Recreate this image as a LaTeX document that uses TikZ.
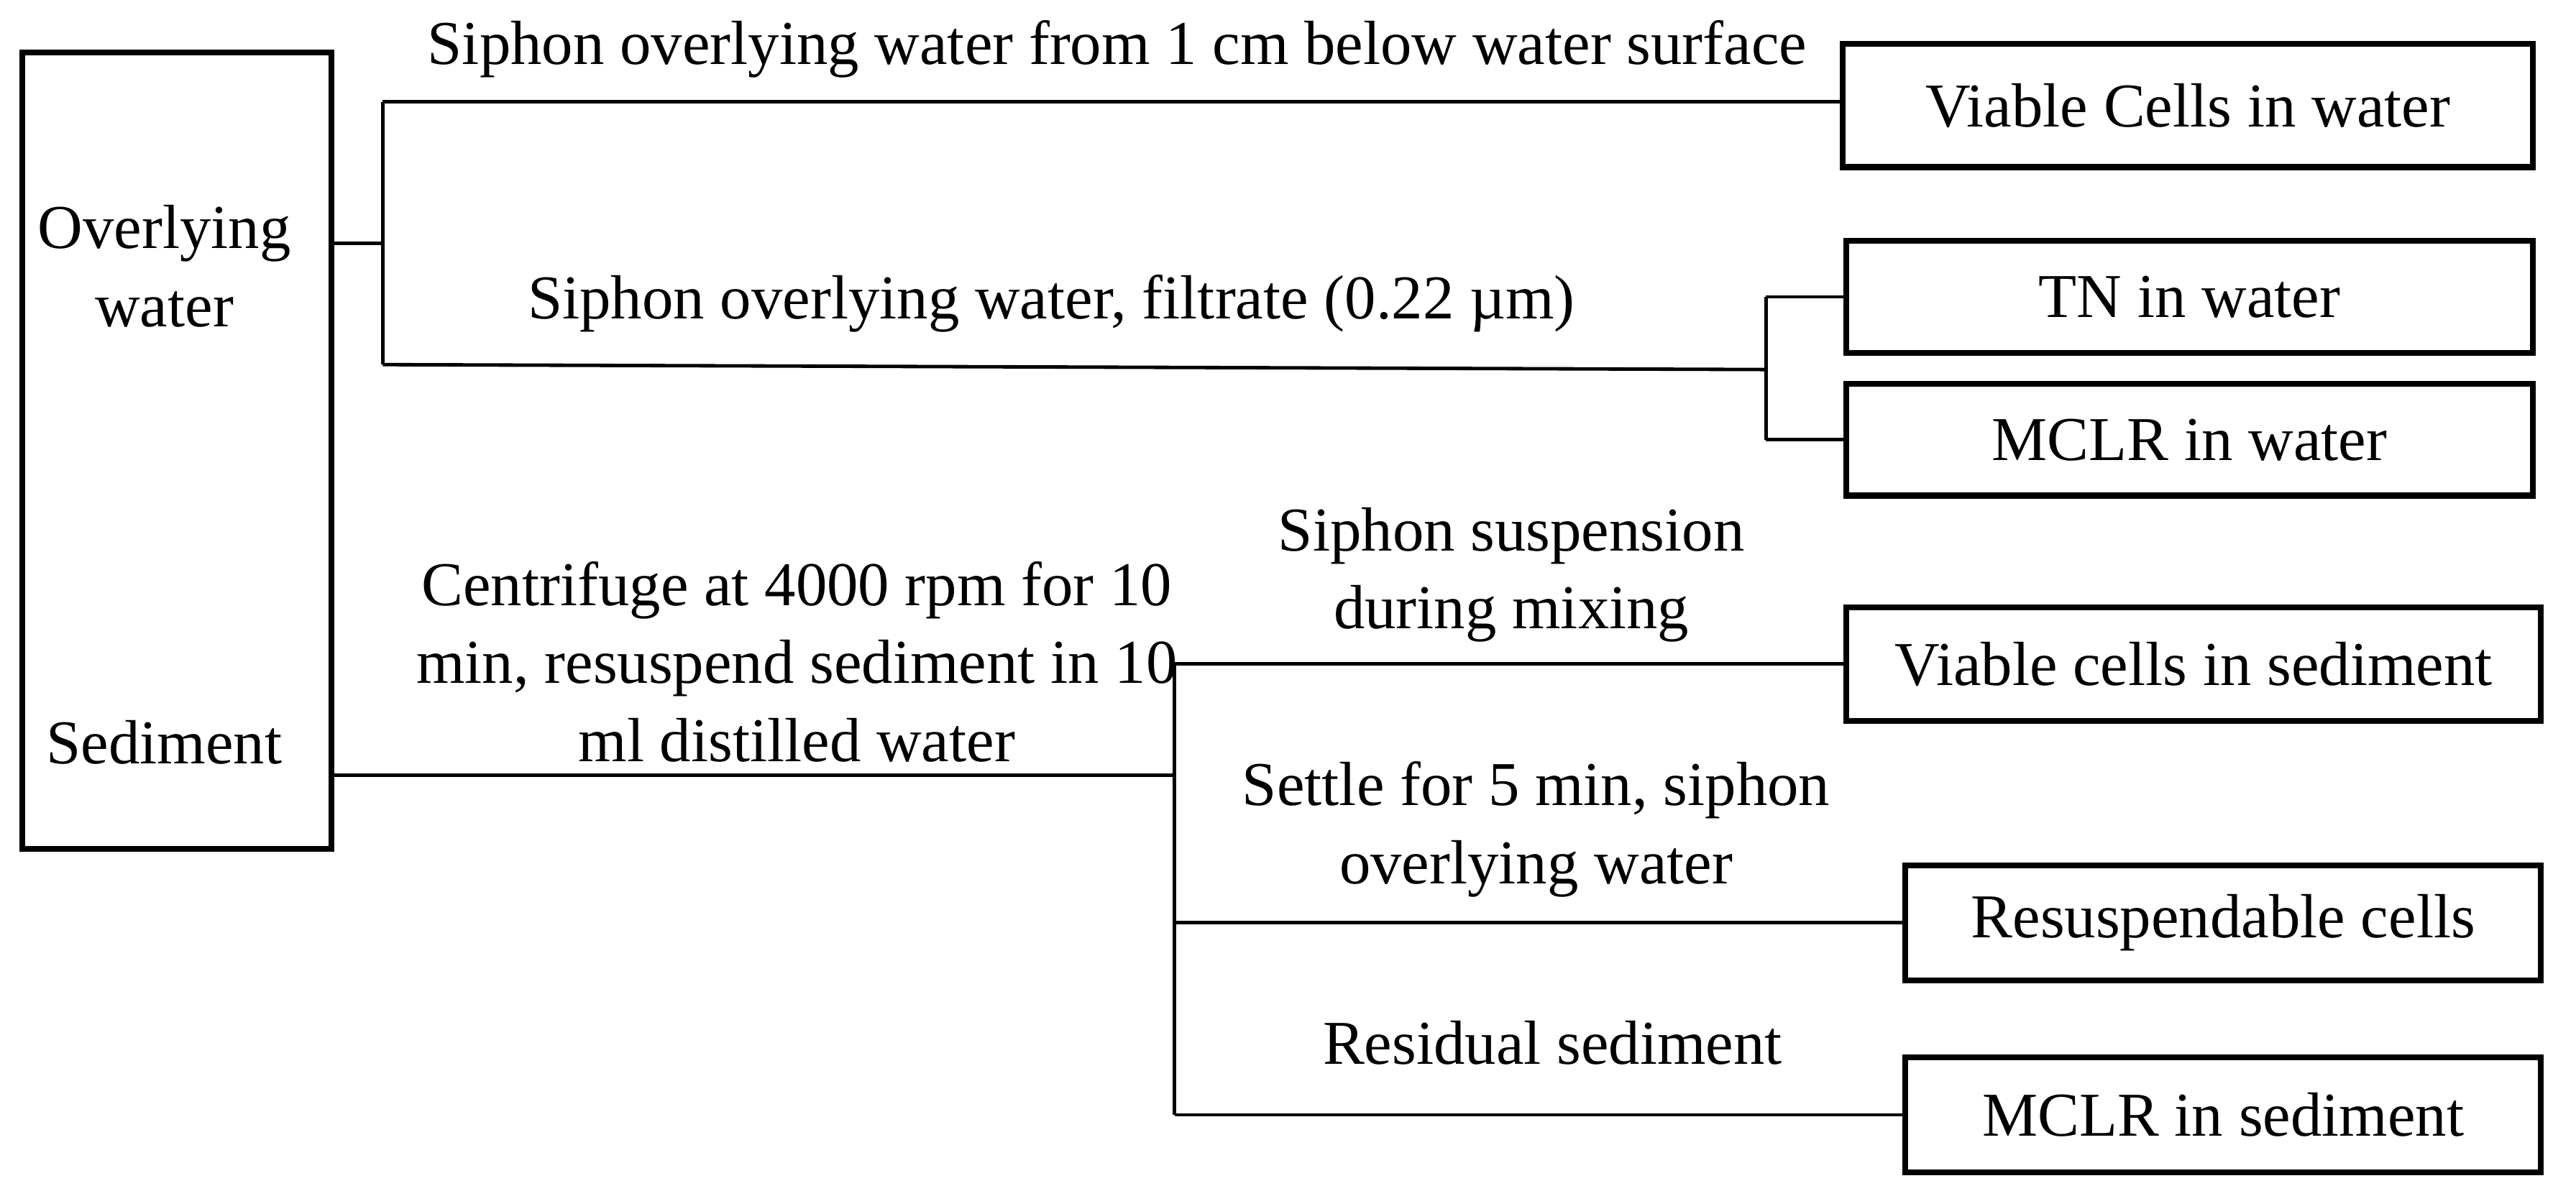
\documentclass[tikz,border=0pt]{standalone}
\usepackage{fontspec}
\setmainfont{Liberation Serif}
\usetikzlibrary{positioning}
\tikzset{
  res box/.style={draw, line width=1pt, inner sep=0pt, anchor=north west},
  branch/.style={line width=0.6pt},
  step label/.style={align=center, font=\fontsize{10.8}{13.5}\selectfont}
}
\begin{document}
\begin{tikzpicture}[x=0.01cm, y=-0.01cm, font=\fontsize{10.8}{13.5}\selectfont]
  \useasboundingbox (0,0) rectangle (1568,722);
  % source box
  \node[res box, minimum width=188*0.01cm, minimum height=485*0.01cm] (src) at (12,30) {};
  \node[step label] (ow) at (100,162) {Overlying\\water};
  \node[step label] (sed) at (100,452) {Sediment};

  % result boxes
  \node[res box, minimum width=420*0.01cm, minimum height=75*0.01cm] (vcw) at (1120,25) {Viable Cells in water};
  \node[res box, minimum width=418*0.01cm, minimum height=68*0.01cm] (tnw) at (1122,145) {TN in water};
  \node[res box, minimum width=418*0.01cm, minimum height=68*0.01cm] (mcw) at (1122,232) {MCLR in water};
  \node[res box, minimum width=423*0.01cm, minimum height=69*0.01cm] (vcs) at (1122,368) {Viable cells in sediment};
  \node[res box, minimum width=387*0.01cm, minimum height=70*0.01cm] (rsc) at (1158,525) {Resuspendable cells};
  \node[res box, minimum width=387*0.01cm, minimum height=70*0.01cm] (mcs) at (1158,642) {MCLR in sediment};

  % junctions
  \coordinate (j1) at (233,148);
  \coordinate (j1t) at (233,62);
  \coordinate (j1b) at (233,222);
  \coordinate (j2) at (1075,225);
  \coordinate (j3) at (715,472);

  % overlying water
  \draw[branch] (src.east |- j1) -- (j1);
  \draw[branch] (j1t) -- (j1b);
  \draw[branch] (j1t) -- (vcw.west |- j1t);
  \draw[branch] (j1b) -- (j2);
  \draw[branch] (j2 |- tnw.west) -- (j2 |- mcw.west);
  \draw[branch] (j2 |- tnw.west) -- (tnw.west);
  \draw[branch] (j2 |- mcw.west) -- (mcw.west);
  \node[step label] (l1) at (680,30) {Siphon overlying water from 1 cm below water surface};
  \node[step label] (l2) at (640,185) {Siphon overlying water, filtrate (0.22 µm)};

  % sediment
  \draw[branch] (src.east |- j3) -- (j3);
  \draw[branch] (j3 |- vcs.west) -- (j3 |- mcs.west);
  \draw[branch] (j3 |- vcs.west) -- (vcs.west);
  \draw[branch] (j3 |- rsc.west) -- (rsc.west);
  \draw[branch] (j3 |- mcs.west) -- (mcs.west);
  \node[step label] (l3) at (485,403) {Centrifuge at 4000 rpm for 10\\min, resuspend sediment in 10\\ml distilled water};
  \node[step label] (l4) at (920,350) {Siphon suspension\\during mixing};
  \node[step label] (l5) at (935,505) {Settle for 5 min, siphon\\overlying water};
  \node[step label] (l6) at (945,635) {Residual sediment};
\end{tikzpicture}
\end{document}
